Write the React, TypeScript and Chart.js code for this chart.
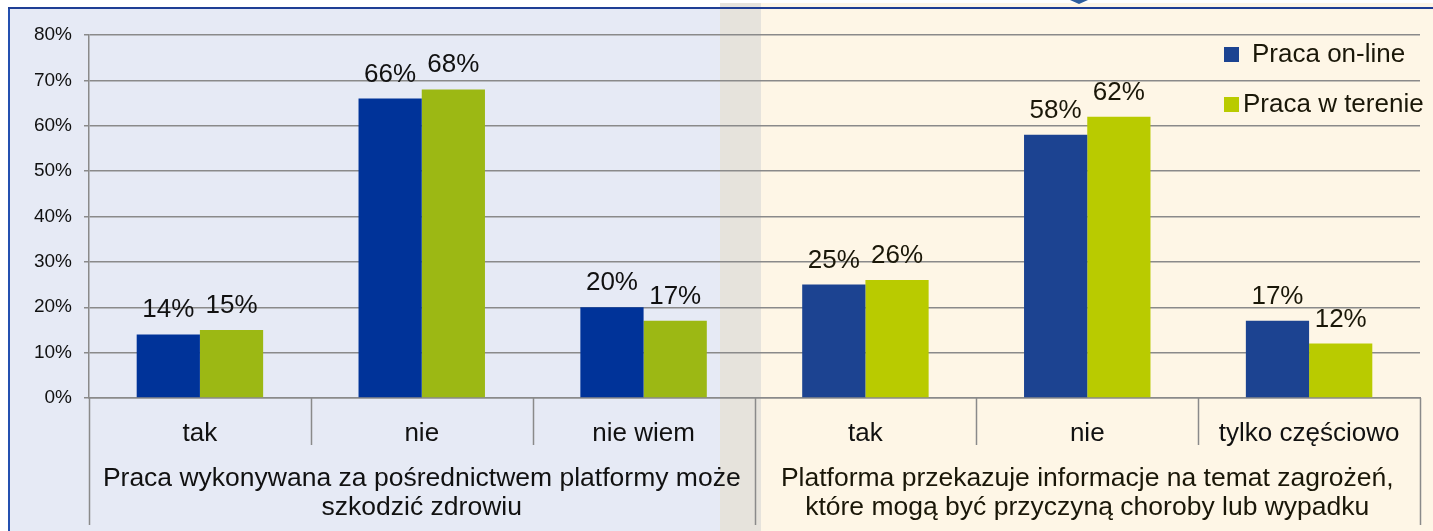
import React, { useEffect, useRef } from "react";
import { Chart, registerables } from "chart.js";

Chart.register(...registerables);

const categories = ["tak", "nie", "nie wiem", "tak", "nie", "tylko częściowo"];
const onlineValues = [14, 66, 20, 25, 58, 17];
const fieldValues = [15, 68, 17, 26, 62, 12];
const seriesNames = ["Praca on-line", "Praca w terenie"];
const groupLabels = [
  ["Praca wykonywana za pośrednictwem platformy może", "szkodzić zdrowiu"],
  ["Platforma przekazuje informacje na temat zagrożeń,", "które mogą być przyczyną choroby lub wypadku"],
];
const yTicks = [0, 10, 20, 30, 40, 50, 60, 70, 80];

const FONT = '"Liberation Sans", Arial, sans-serif';
const onlineColors = ["#003399", "#003399", "#003399", "#1C4391", "#1C4391", "#1C4391"];
const fieldColors = ["#9CB814", "#9CB814", "#9CB814", "#B9CB00", "#B9CB00", "#B9CB00"];
const gridColor = "#8A8A8A";

export default function App() {
  const ref = useRef<HTMLCanvasElement | null>(null);

  useEffect(() => {
    document.body.style.margin = "0";
    const canvas = ref.current;
    if (!canvas) return;

    const decor = {
      id: "decor",
      beforeDraw(chart: any) {
        const { ctx } = chart;
        const W = chart.width;
        const H = chart.height;
        ctx.save();
        ctx.fillStyle = "#FFFFFF";
        ctx.fillRect(0, 0, W, H);
        ctx.fillStyle = "#E6EAF5";
        ctx.fillRect(9, 8, 711, H - 8);
        ctx.fillStyle = "#E6E3DC";
        ctx.fillRect(720, 3, 41, H - 3);
        ctx.fillStyle = "#FEF6E6";
        ctx.fillRect(761, 3, W - 761, H - 3);
        ctx.fillStyle = "#2450B0";
        ctx.fillRect(8, 7, 2, H - 7);
        ctx.fillStyle = "#1F3F95";
        ctx.fillRect(8, 7, W - 8, 2);
        ctx.fillStyle = "#2E5E9E";
        ctx.beginPath();
        ctx.moveTo(1070, 0);
        ctx.lineTo(1088, 0);
        ctx.lineTo(1079, 4);
        ctx.closePath();
        ctx.fill();
        ctx.restore();
      },
      afterDraw(chart: any) {
        const { ctx, chartArea } = chart;
        const x = chart.scales.x;
        const bottom = chartArea.bottom;
        ctx.save();
        ctx.strokeStyle = gridColor;
        ctx.lineWidth = 1.5;
        const half = (x.getPixelForValue(1) - x.getPixelForValue(0)) / 2;
        const bounds: number[] = [];
        for (let i = 0; i <= categories.length; i++) {
          bounds.push(x.getPixelForValue(0) - half + i * 2 * half);
        }
        bounds.forEach((bx, i) => {
          const tall = i === 0 || i === 3 || i === 6;
          ctx.beginPath();
          ctx.moveTo(Math.round(bx) + 0.5, bottom);
          ctx.lineTo(Math.round(bx) + 0.5, tall ? 525 : 445);
          ctx.stroke();
        });
        // group labels
        ctx.font = "26.5px " + FONT;
        ctx.textAlign = "center";
        ctx.textBaseline = "alphabetic";
        groupLabels.forEach((lines, g) => {
          const cx = (bounds[g * 3] + bounds[g * 3 + 3]) / 2;
          ctx.fillStyle = g === 0 ? "#111111" : "#1A1708";
          lines.forEach((t, li) => {
            ctx.fillText(t, cx, 486 + li * 29);
          });
        });
        // data labels
        ctx.font = "26px " + FONT;
        ctx.textAlign = "center";
        chart.data.datasets.forEach((ds: any, di: number) => {
          const meta = chart.getDatasetMeta(di);
          meta.data.forEach((bar: any, i: number) => {
            ctx.fillStyle = i < 3 ? "#111111" : "#1A1708";
            ctx.fillText(ds.data[i] + "%", bar.x, bar.y - 17);
          });
        });
        // legend
        ctx.textAlign = "left";
        ctx.textBaseline = "middle";
        ctx.font = "26px " + FONT;
        ctx.fillStyle = "#1C4391";
        ctx.fillRect(1224, 47, 15, 15);
        ctx.fillStyle = "#1A1708";
        ctx.fillText(seriesNames[0], 1252, 55);
        ctx.fillStyle = "#B9CB00";
        ctx.fillRect(1224, 97, 15, 15);
        ctx.fillStyle = "#1A1708";
        ctx.fillText(seriesNames[1], 1243, 105);
        ctx.restore();
      },
    };

    const chart = new Chart(canvas, {
      type: "bar",
      data: {
        labels: categories,
        datasets: [
          {
            label: seriesNames[0],
            data: onlineValues,
            backgroundColor: onlineColors,
            barPercentage: 1,
            categoryPercentage: 0.57,
          },
          {
            label: seriesNames[1],
            data: fieldValues,
            backgroundColor: fieldColors,
            barPercentage: 1,
            categoryPercentage: 0.57,
          },
        ],
      },
      options: {
        responsive: false,
        animation: false,
        events: [],
        layout: { padding: { top: 35, right: 13, left: 0, bottom: 0 } },
        plugins: {
          legend: { display: false },
          tooltip: { enabled: false },
        },
        scales: {
          x: {
            grid: { display: false, drawTicks: false },
            border: { display: true, color: gridColor, width: 1.5 },
            ticks: {
              padding: 20,
              color: "#111111",
              font: { family: FONT, size: 26 },
              maxRotation: 0,
              autoSkip: false,
            },
            afterFit(scale: any) {
              scale.height = 133;
            },
          },
          y: {
            min: 0,
            max: 80,
            afterBuildTicks(scale: any) {
              scale.ticks = yTicks.map((v) => ({ value: v }));
            },
            grid: { color: gridColor, lineWidth: 1.5, tickLength: 5 },
            border: { display: true, color: gridColor, width: 1.5 },
            ticks: {
              padding: 12,
              color: "#111111",
              font: { family: FONT, size: 19 },
              callback: (v: any) => v + "%",
            },
            afterFit(scale: any) {
              scale.width = 89;
            },
          },
        },
      },
      plugins: [decor],
    });
    return () => chart.destroy();
  }, []);

  return (
    <div style={{ width: 1433, height: 531 }}>
      <canvas ref={ref} width={1433} height={531} style={{ display: "block" }} />
    </div>
  );
}
